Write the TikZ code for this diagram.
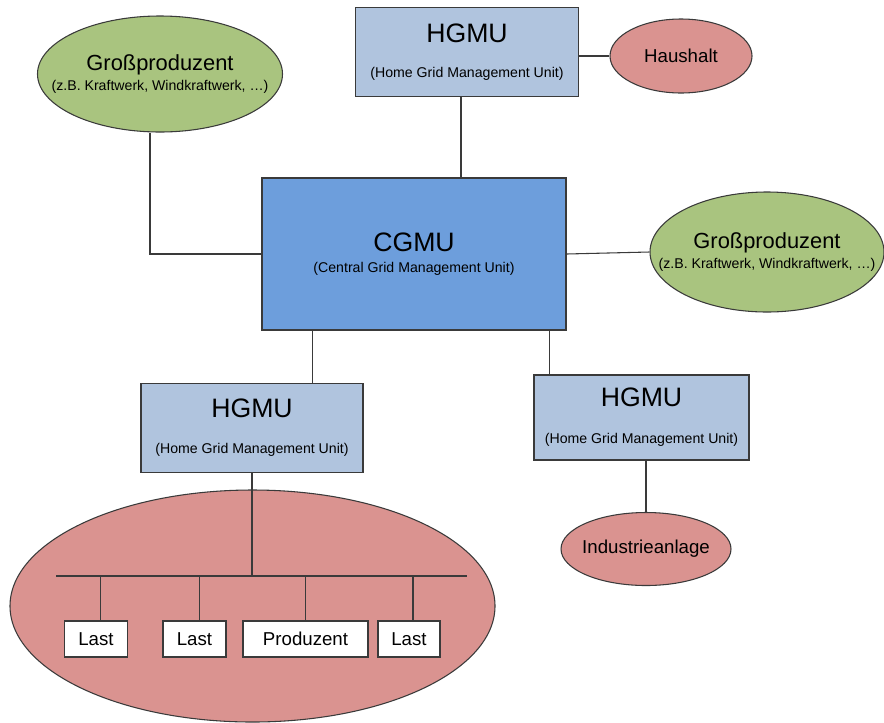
\documentclass[tikz,border=0pt]{standalone}
\usepackage{fontspec}
\setmainfont{Liberation Sans}
\usepackage{tikz}
\usetikzlibrary{shapes.geometric,positioning}
\definecolor{producergreen}{HTML}{A9C47F}
\definecolor{hgmublue}{HTML}{B0C4DE}
\definecolor{cgmublue}{HTML}{6D9EDC}
\definecolor{loadred}{HTML}{DA9390}
\definecolor{edgegray}{HTML}{3A3A3A}
\tikzset{
  unitbox/.style={draw=edgegray,line width=0.8pt,fill=hgmublue,align=center,inner sep=0pt,
    font=\fontsize{10.6}{12.7}\selectfont},
  centralbox/.style={unitbox,fill=cgmublue},
  producerellipse/.style={ellipse,draw=edgegray,line width=0.8pt,fill=producergreen,inner sep=0pt},
  loadellipse/.style={ellipse,draw=edgegray,line width=0.8pt,fill=loadred,inner sep=0pt},
  ellipsetext/.style={align=center,inner sep=0pt,font=\fontsize{10.6}{12.7}\selectfont},
  loadtext/.style={inner sep=0pt,font=\fontsize{14}{17}\selectfont},
  loadbox/.style={draw=edgegray,line width=0.8pt,fill=white,inner sep=0pt,minimum height=27pt,
    font=\fontsize{14}{17}\selectfont},
  gridline/.style={draw=edgegray,line width=0.8pt}
}

\begin{document}
\begin{tikzpicture}[x=0.75pt,y=-0.75pt]
  \useasboundingbox (0,0) rectangle (884,722);
  \node[loadellipse,minimum width=363.75pt,minimum height=174pt] (homeGrid) at (252.5,606) {};
  \node[producerellipse,minimum width=183.75pt,minimum height=87pt,
    label={[ellipsetext]center:{{\fontsize{16.4}{19}\selectfont Großproduzent}\\[2pt](z.B. Kraftwerk, Windkraftwerk, …)}}]
    (gpLeft) at (160,74) {};
  \node[producerellipse,minimum width=175.5pt,minimum height=90pt,
    label={[ellipsetext]center:{{\fontsize{16.4}{19}\selectfont Großproduzent}\\[3pt](z.B. Kraftwerk, Windkraftwerk, …)}}]
    (gpRight) at (767,252) {};
  \node[unitbox,minimum width=167.25pt,minimum height=66.75pt] (hgmuTop) at (467,52)
    {{\fontsize{20}{24}\selectfont HGMU}\\[14pt](Home Grid Management Unit)};
  \node[loadellipse,minimum width=106.5pt,minimum height=55.5pt,
    label={[loadtext]center:Haushalt}] (haushalt) at (681,56) {};
  \node[centralbox,minimum width=228pt,minimum height=114pt] (cgmu) at (414,254)
    {{\fontsize{20}{24}\selectfont CGMU}\\[3pt](Central Grid Management Unit)};
  \node[unitbox,minimum width=166.5pt,minimum height=66.75pt] (hgmuLeft) at (252,428)
    {{\fontsize{20}{24}\selectfont HGMU}\\[14.5pt](Home Grid Management Unit)};
  \node[unitbox,minimum width=161.25pt,minimum height=63.75pt] (hgmuRight) at (641.5,417.5)
    {{\fontsize{20}{24}\selectfont HGMU}\\[15pt](Home Grid Management Unit)};
  \node[loadellipse,minimum width=127.5pt,minimum height=54.75pt,
    label={[loadtext]center:Industrieanlage}] (industrie) at (646,549) {};
  \node[loadbox,minimum width=47.25pt] (lastA) at (96,639) {Last};
  \node[loadbox,minimum width=47.25pt] (lastB) at (194.5,639) {Last};
  \node[loadbox,minimum width=93.75pt] (prod) at (305.5,639) {Produzent};
  \node[loadbox,minimum width=46.5pt] (lastC) at (409,639) {Last};

  \draw[gridline] ([xshift=-7.5pt]gpLeft.south) |- (cgmu.west);
  \draw[gridline] (haushalt.west -| hgmuTop.east) -- (haushalt.west);
  \draw[gridline] ([xshift=-4.5pt]hgmuTop.south) -- ([xshift=-4.5pt]hgmuTop.south |- cgmu.north);
  \draw[gridline] (cgmu.east) -- (gpRight.west);
  \draw[gridline] ([xshift=38.25pt]cgmu.south west) -- ([xshift=38.25pt]cgmu.south west |- hgmuLeft.north);
  \draw[gridline] ([xshift=-12.75pt]cgmu.south east) -- ([xshift=-12.75pt]cgmu.south east |- hgmuRight.north);
  \draw[gridline] (industrie.north) -- (industrie.north |- hgmuRight.south);
  \coordinate (busLeft) at (56,576);
  \coordinate (busRight) at (467,576);
  \draw[gridline] (busLeft) -- (busRight);
  \draw[gridline] (hgmuLeft.south) -- (hgmuLeft.south |- busLeft);
  \foreach \n/\dx in {lastA/3.2,lastB/3.4,prod/0,lastC/3}
    \draw[gridline] ([xshift=\dx pt]\n.north) -- ([xshift=\dx pt]\n.north |- busLeft);
\end{tikzpicture}
\end{document}
